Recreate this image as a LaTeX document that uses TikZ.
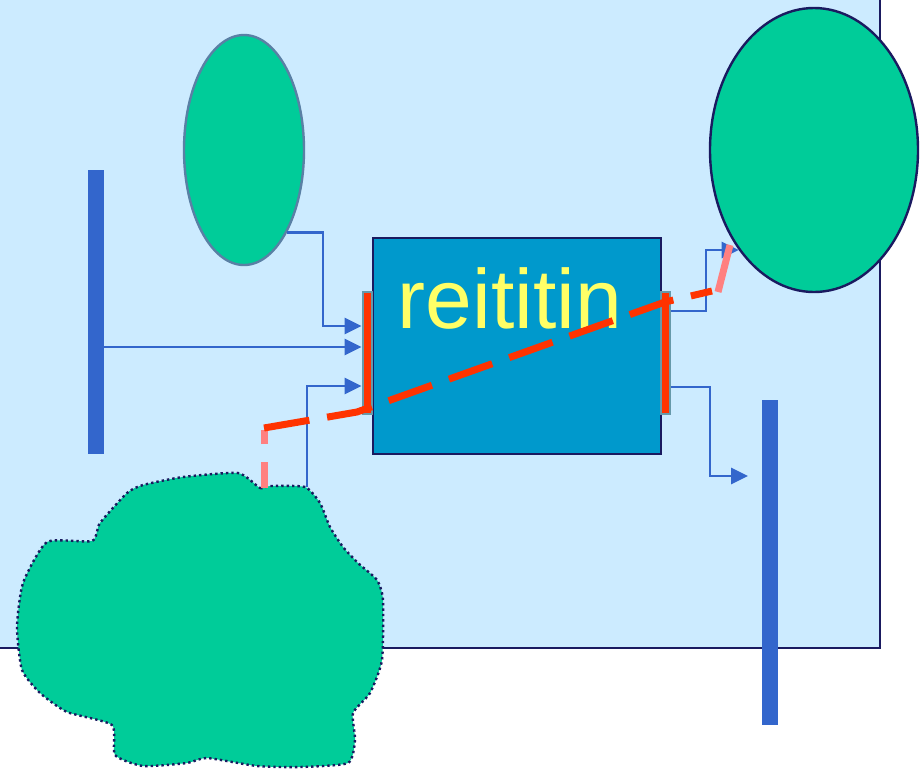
\documentclass[tikz,border=0pt]{standalone}
\usepackage{fontspec}
\setmainfont{Liberation Sans}
\usetikzlibrary{shapes.geometric,arrows.meta,calc}
\definecolor{bgblue}{HTML}{CCEBFF}
\definecolor{navy}{HTML}{1A1A60}
\definecolor{grn}{HTML}{00CC99}
\definecolor{boxblue}{HTML}{0099CC}
\definecolor{barblue}{HTML}{3366CC}
\definecolor{redl}{HTML}{FF3300}
\definecolor{pinkl}{HTML}{FF8080}
\definecolor{portg}{HTML}{6699AA}
\definecolor{ellb}{HTML}{5A80A5}
\definecolor{yel}{HTML}{FFFF66}
\tikzset{
  bar/.style={rectangle,fill=barblue,inner sep=0pt,minimum width=16pt},
  port/.style={rectangle,fill=portg,draw=portg,line width=1pt,inner sep=0pt,minimum width=10pt,minimum height=123pt},
  arr/.style={draw=barblue,line width=2.8pt,-{Triangle[length=17pt,width=16pt]}},
  redd/.style={draw=redl,line width=7pt,dash pattern=on 46pt off 18pt},
  pinkd/.style={draw=pinkl,line width=7pt,dash pattern=on 26pt off 18pt},
}
\begin{document}
\begin{tikzpicture}[x=1pt,y=-1pt]
\useasboundingbox (0,0) rectangle (920,769);
% background panel
\fill[bgblue] (-5,-5) rectangle (880,648);
\draw[navy,line width=2.4pt] (-5,648) -- (880,648) -- (880,-5);

% nodes
\node[bar,minimum height=284pt] (lbar) at (96,312) {};
\node[bar,minimum height=325pt] (rbar) at (770,562.5) {};
\node[ellipse,fill=grn,draw=ellb,line width=2.4pt,inner sep=0pt,minimum width=120pt,minimum height=230pt] (ell1) at (244,150) {};
\node[ellipse,fill=grn,draw=navy,line width=2.4pt,inner sep=0pt,minimum width=208pt,minimum height=284pt] (ell2) at (814,150) {};
\node[rectangle,fill=boxblue,draw=navy,line width=2.4pt,inner sep=0pt,minimum width=288pt,minimum height=216pt] (router) at (517,346) {};
\node[anchor=base,text=yel,font=\fontsize{84}{84}\selectfont,inner sep=0pt] (lbl) at (510,328) {reititin};
\node[port] (lport) at (367,352.5) {};
\node[port] (rport) at (665,352.5) {};

% cloud
\path[fill=grn,draw=navy,line width=2.4pt,dash pattern=on 2.4pt off 3pt]
  plot[smooth cycle,tension=0.35] coordinates {
  (238,473) (260,488) (270,486) (305,487) (320,503) (330,527) (343,547) (358,563)
  (377,580) (383,600) (382,660) (370,693) (353,713) (355,740) (348,763) (300,767)
  (257,766) (207,758) (187,763) (143,766) (115,755) (112,725) (67,712) (40,693)
  (22,670) (17,627) (23,583) (47,542) (92,541) (100,523) (127,493) (143,485) (183,477)};
\coordinate (ctop) at (307,487);
\coordinate (cpink) at (264,488);

% connectors
\coordinate (k1) at (323,326);
\draw[arr] (ell1.south east) -| (k1) -- (k1 -| lport.west);
\draw[arr] (lbar.east |- 0,347) -- (lport.west |- 0,347);
\coordinate (k3) at (307,386);
\draw[arr] (ctop) -- (k3) -- (k3 -| lport.west);
\coordinate (k4) at (706,250);
\draw[arr] (rport.east |- 0,311) -| (k4) -- (k4 -| ell2.233.5);
\coordinate (k5) at (710,476);
\coordinate (k5e) at (748,476);
\draw[arr] (rport.east |- 0,387) -| (k5) -- (k5e);

% port red lines
\draw[redl,line width=7pt] ($(lport.north)+(0,2)$) -- ($(lport.south)+(0,-2)$);
\draw[redl,line width=7pt] ($(rport.north)+(0,2)$) -- ($(rport.south)+(0,-2)$);

% dashed path
\coordinate (d1) at (264,430);
\coordinate (d2) at (357,412);
\coordinate (d3) at (665,302);
\coordinate (d4) at (712,291);
\coordinate (d5) at (718,292);
\coordinate (d6) at (730,245);
\draw[pinkd] (cpink) -- (d1);
\draw[redd] (264,428) -- (d2) -- (d3) -- (d4);
\draw[pinkl,line width=7pt] (d5) -- (d6);
\end{tikzpicture}
\end{document}
